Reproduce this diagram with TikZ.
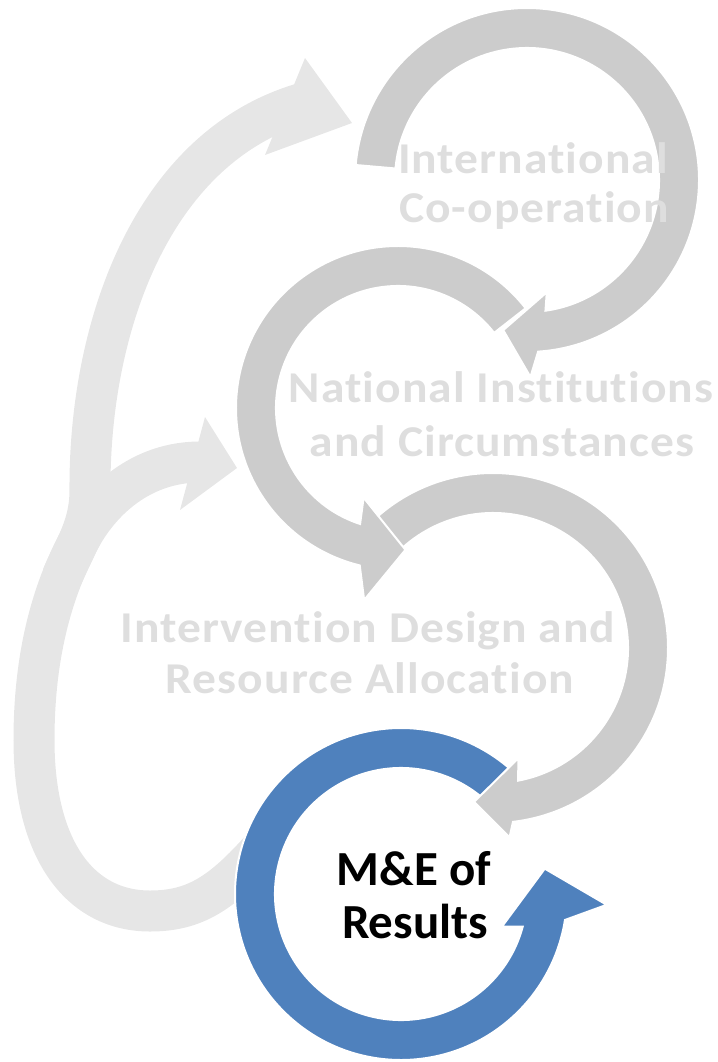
\documentclass[tikz,border=0pt]{standalone}
\usepackage{fontspec}
\setmainfont{Carlito}
\newfontfamily\stagefont{Carlito}[FakeStretch=1.08, LetterSpace=2.4, Ligatures=NoCommon]
\usepackage{tikz}
\usetikzlibrary{positioning}

\definecolor{ringgray}{RGB}{204,204,204}
\definecolor{ringlight}{RGB}{230,230,230}
\definecolor{ringblue}{RGB}{79,129,189}
\definecolor{textgray}{RGB}{222,222,222}

\tikzset{
    stage/.style={anchor=base, inner sep=0pt, text=textgray,
                  font=\stagefont\bfseries\fontsize{44}{44}\selectfont},
    focus/.style={anchor=base, inner sep=0pt, text=black,
                  font=\bfseries\fontsize{49}{49}\selectfont}
}

\begin{document}
\begin{tikzpicture}[x=1pt, y=-1pt]
    \useasboundingbox (0,0) rectangle (717,1062);

    % light feedback arrows on the left
    \draw[ringlight, line width=41] (62,577) .. controls (76,545) and (90,525) .. (90,490)
        .. controls (89,330) and (150,150) .. (300,104);
    \fill[ringlight] (305,58) -- (352,123) -- (265,155) -- cycle;
    \draw[ringlight, line width=41] (262,848) .. controls (222,893) and (195,911) .. (150,911)
        .. controls (80,911) and (34,850) .. (34,740)
        .. controls (34,660) and (50,590) .. (85,530)
        .. controls (110,490) and (150,462) .. (200,462);
    \fill[ringlight] (205,417) -- (237,468) -- (180,510) -- cycle;

    % circular arrows, bottom one first:
    % centre/radius/start/inner corner r,angle/outer corner r,angle/tip angle/colour
    \foreach \cx/\cy/\rad/\sa/\ri/\ai/\ro/\ao/\ta/\col in {
            401/894/146/312/106/18/206/3/-10/ringblue,
            493/648/155/226/113/437/190/445/457/ringgray,
            398/408/142/322/96/111/195/100/87/ringgray,
            527/180/152/185/114/440/197/449/459/ringgray}{
        \pgfmathsetmacro{\eo}{\ai+(\ao-\ai)*(\rad+20-\ri)/(\ro-\ri)}
        \pgfmathsetmacro{\ei}{\ai+(\ao-\ai)*(\rad-20-\ri)/(\ro-\ri)}
        \begin{scope}[shift={(\cx,\cy)}]
            \filldraw[fill=\col, draw=white, line width=2]
                (\sa:{\rad+20}) arc[start angle=\sa, end angle=\eo, radius=\rad+20]
                -- (\ao:\ro) -- (\ta:\rad) -- (\ai:\ri) -- (\ei:{\rad-20})
                arc[start angle=\ei, end angle=\sa, radius=\rad-20] -- cycle;
        \end{scope}
    }

    \node[stage] (intl)    at (533,173) {International};
    \node[stage] (coop)    at (534,222) {Co-operation};
    \node[stage] (natl)    at (501,402) {National Institutions};
    \node[stage] (circ)    at (502,456) {and Circumstances};
    \node[stage] (design)  at (368,642) {Intervention Design and};
    \node[stage] (alloc)   at (370,693) {Resource Allocation};
    \node[focus] (me)      at (414,885) {M\&E of};
    \node[focus] (results) at (415,938) {Results};
\end{tikzpicture}
\end{document}
